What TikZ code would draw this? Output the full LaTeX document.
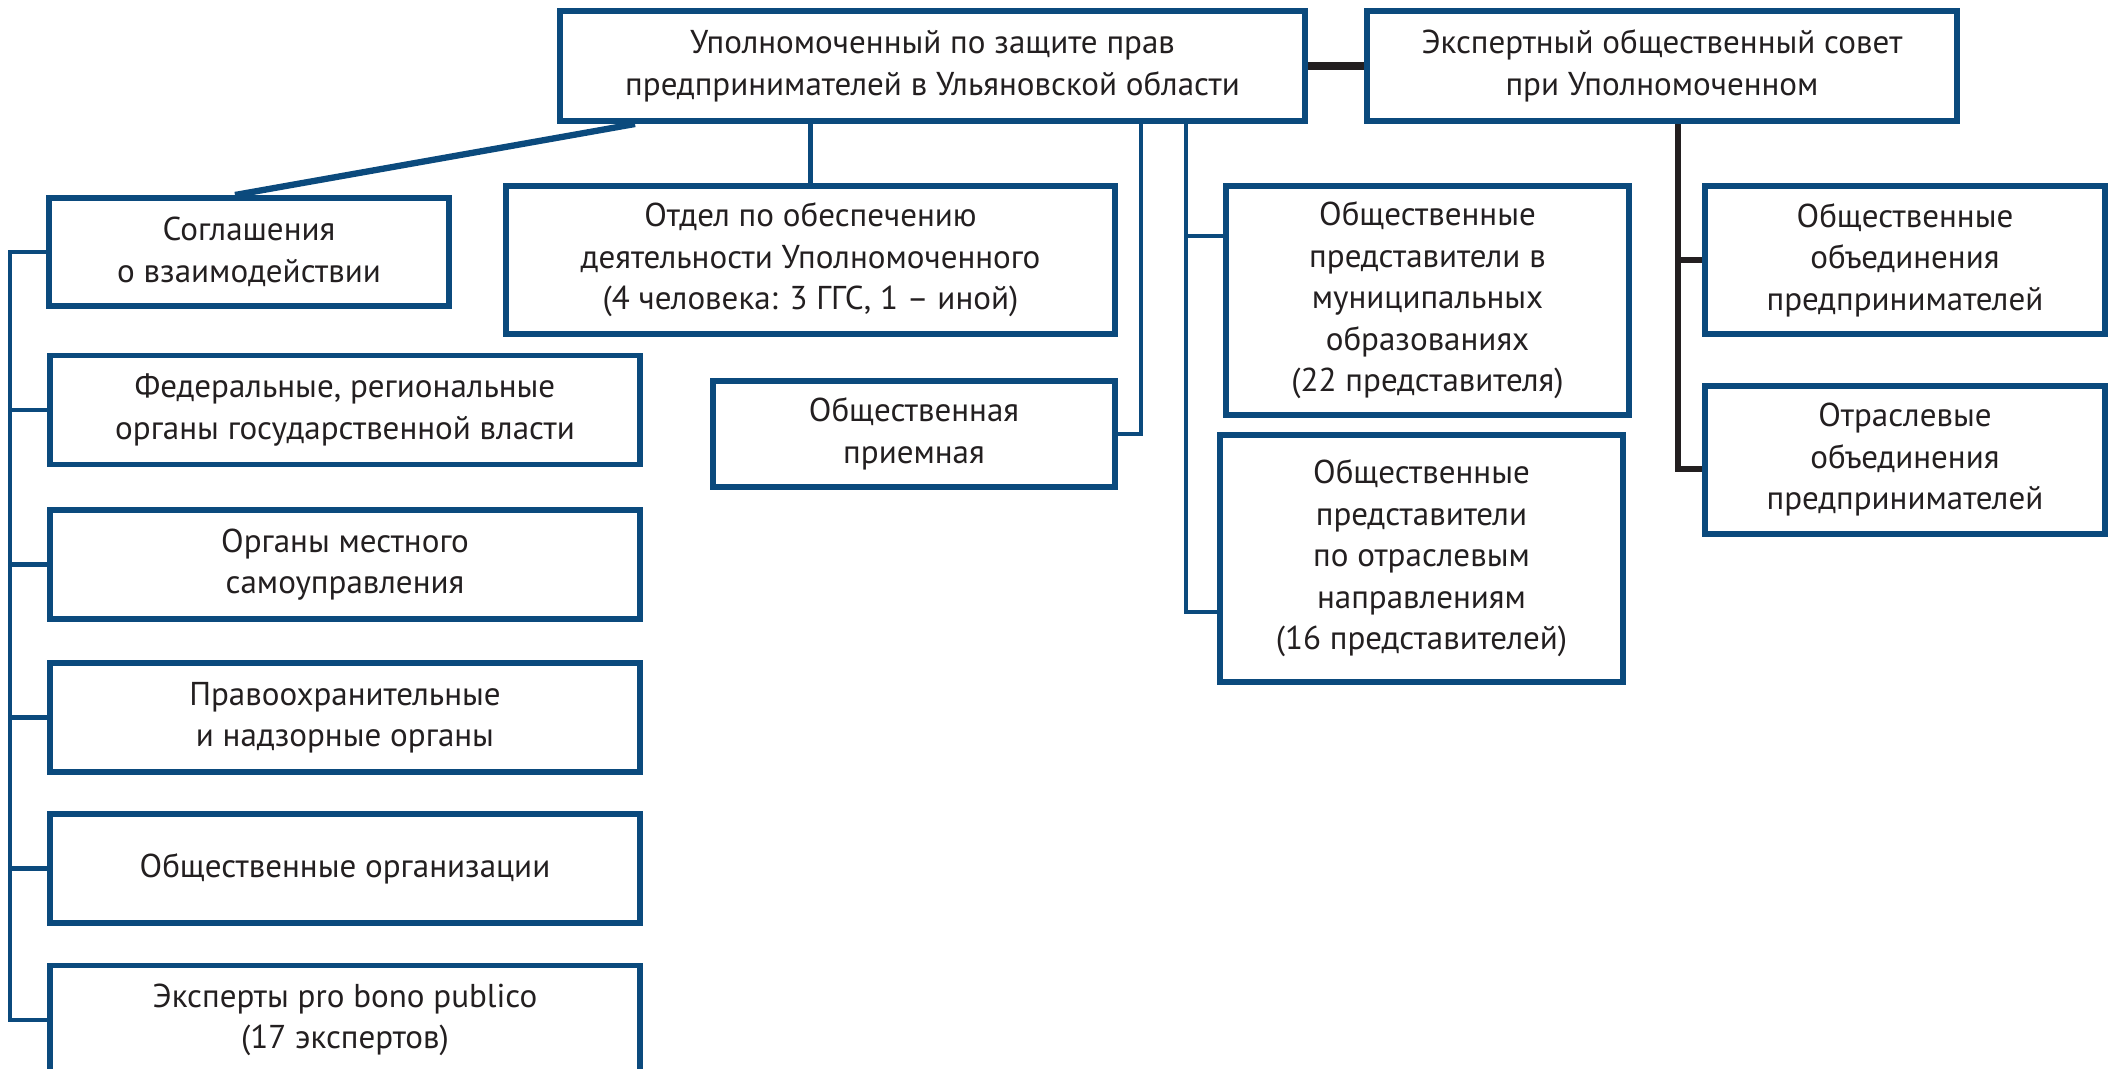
\documentclass[tikz,border=0pt]{standalone}
\usepackage{fontspec}
\setmainfont{PT Sans}
\usetikzlibrary{positioning,calc}
\definecolor{frameblue}{HTML}{0B4A7D}
\definecolor{inkgray}{HTML}{231F20}

\begin{document}
\begin{tikzpicture}[
    box/.style={draw=frameblue, line width=1.7pt, fill=white, align=center, inner sep=2pt,
        text=inkgray, font=\fontsize{9.4}{11.8}\selectfont},
    link/.style={draw=frameblue, line width=1.35pt},
    blacklink/.style={draw=inkgray, line width=1.5pt}
]
    \useasboundingbox (0,0) rectangle (21.09,-10.69);

    % Top row
    \node[box, minimum width=7.45cm, minimum height=1.1cm] (ombud) at (9.325,-0.66)
        {Уполномоченный по защите прав\\предпринимателей в Ульяновской области};
    \node[box, minimum width=5.9cm, minimum height=1.1cm] (council) at (16.62,-0.66)
        {Экспертный общественный совет\\при Уполномоченном};

    % Middle boxes
    \node[box, minimum width=4.0cm, minimum height=1.08cm] (sogl) at (2.49,-2.52)
        {Соглашения\\о взаимодействии};
    \node[box, minimum width=6.09cm, minimum height=1.48cm] (otdel) at (8.105,-2.60)
        {Отдел по обеспечению\\деятельности Уполномоченного\\(4 человека: 3 ГГС, 1 – иной)};
    \node[box, minimum width=4.02cm, minimum height=1.06cm] (priem) at (9.14,-4.34)
        {Общественная\\приемная};
    \node[box, minimum width=4.03cm, minimum height=2.29cm] (munic) at (14.275,-3.005)
        {Общественные\\представители в\\муниципальных\\образованиях\\(22 представителя)};
    \node[box, minimum width=4.03cm, minimum height=2.47cm] (otrasl) at (14.215,-5.585)
        {Общественные\\представители\\по отраслевым\\направлениям\\(16 представителей)};
    \node[box, minimum width=4.0cm, minimum height=1.48cm] (obied) at (19.05,-2.60)
        {Общественные\\объединения\\предпринимателей};
    \node[box, minimum width=4.0cm, minimum height=1.48cm] (otrobied) at (19.05,-4.60)
        {Отраслевые\\объединения\\предпринимателей};

    % Left column
    \foreach \nm/\yy/\txt in {
        fed/-4.10/{Федеральные, региональные\\органы государственной власти},
        mest/-5.645/{Органы местного\\самоуправления},
        pravo/-7.175/{Правоохранительные\\и надзорные органы},
        obsch/-8.685/{Общественные организации},
        eksp/-10.20/{Эксперты pro bono publico\\(17 экспертов)}} {
        \node[box, minimum width=5.9cm, minimum height=1.09cm] (\nm) at (3.45,\yy) {\txt};
    }

    % Connectors from the ombudsman
    \draw[link, line width=1.8pt] ($(ombud.south west)+(0.78,0)$) -- ($(sogl.north west)+(1.89,0)$);
    \draw[link] (ombud.south -| otdel.north) -- (otdel.north);
    \coordinate (tapA) at ($(ombud.south west)+(5.84,0)$);
    \coordinate (tapB) at ($(ombud.south west)+(6.29,0)$);
    \coordinate (municjoin) at ($(munic.north west)+(0,-0.53)$);
    \coordinate (otrasljoin) at ($(otrasl.south west)+(0,0.73)$);
    \draw[link] (tapA) |- (priem.east);
    \draw[link] (tapB) |- (otrasljoin);
    \draw[link] (tapB |- municjoin) -- (municjoin);

    % Left spine
    \draw[link] (sogl.west) -- ++(-0.36,0) coordinate (spinetop) |- (eksp.west);
    \foreach \nm in {fed,mest,pravo,obsch} {
        \draw[link] (spinetop |- \nm.west) -- (\nm.west);
    }

    % Expert council
    \draw[blacklink, line width=2pt] (ombud.east) -- (council.west);
    \coordinate (tapC) at ($(council.south west)+(3.14,0)$);
    \draw[blacklink] (tapC) |- ($(otrobied.west)+(0,-0.09)$);
    \draw[blacklink] (tapC |- obied.west) -- (obied.west);
\end{tikzpicture}
\end{document}
